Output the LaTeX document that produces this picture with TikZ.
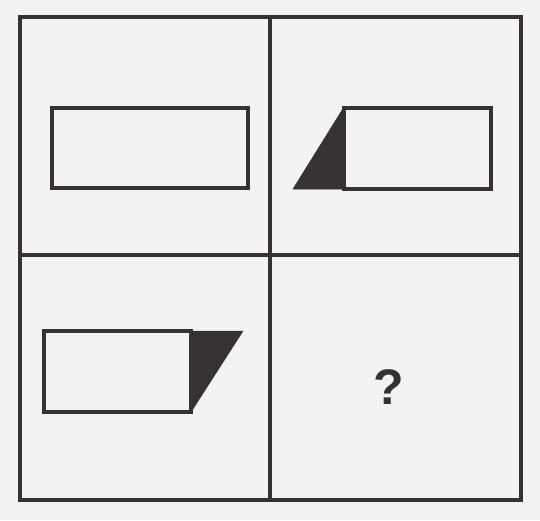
\documentclass[tikz,border=0pt]{standalone}
\usepackage{fontspec}
\setmainfont{Liberation Sans}
\definecolor{ink}{HTML}{363233}
\definecolor{paper}{HTML}{F3F3F3}
\begin{document}
\begin{tikzpicture}[x=1pt,y=-1pt,
  frame/.style={draw=ink,line width=3.5pt},
  figbox/.style={draw=ink,line width=3.5pt,fill=paper},
  wedge/.style={fill=ink,draw=ink,line width=0.5pt,line join=miter}]
\fill[paper] (0,0) rectangle (540,520);
\useasboundingbox (0,0) rectangle (540,520);
% outer frame and dividers
\draw[frame] (20,17) rectangle (521,500);
\draw[frame] (270,17) -- (270,500);
\draw[frame] (20,255) -- (521,255);
% top-left
\draw[figbox] (52,108) rectangle (248,188);
% top-right
\fill[wedge] (344,107) -- (293,189) -- (344,189) -- cycle;
\draw[figbox] (344,108) rectangle (491,189);
% bottom-left
\fill[wedge] (191,331) -- (243,331) -- (191,412) -- cycle;
\draw[figbox] (44,331) rectangle (191,412);
% question mark
\node[text=ink,font=\fontsize{50}{50}\selectfont\bfseries] (q) at (389,387) {?};
\end{tikzpicture}
\end{document}
